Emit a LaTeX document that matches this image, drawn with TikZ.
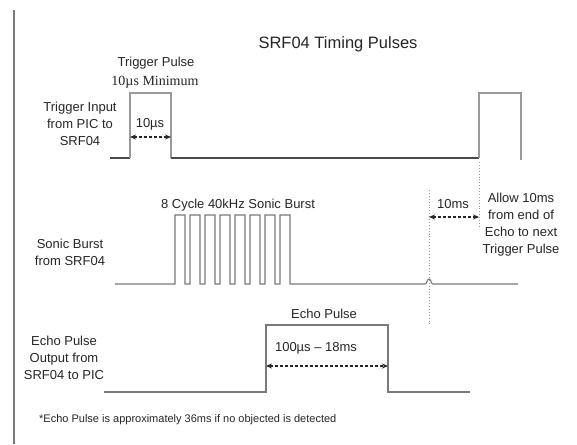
\documentclass[tikz,border=0pt]{standalone}
\usepackage{fontspec}
\setmainfont{Liberation Sans}
\newfontfamily\serifface{Liberation Serif}
\usetikzlibrary{arrows.meta}
\definecolor{sigdark}{HTML}{4A4A4A}
\definecolor{siglight}{HTML}{9A9A9A}
\definecolor{sigmid}{HTML}{7A7A7A}
\tikzset{
  lbl/.style={inner sep=0pt, align=center, font=\fontsize{13}{17}\selectfont, text=black!85},
  title/.style={inner sep=0pt, font=\fontsize{16.5}{20}\selectfont, text=black!85},
  small/.style={inner sep=0pt, font=\fontsize{11}{13}\selectfont, text=black!85},
  sigbase/.style={draw=sigdark, line width=1.4pt},
  siglt/.style={draw=siglight, line width=1.2pt},
  sigmd/.style={draw=sigmid, line width=1.1pt},
  dim/.style={draw=black!85, dashed, dash pattern=on 3pt off 2pt, line width=1.1pt, {Stealth[length=6pt,width=5pt]}-{Stealth[length=6pt,width=5pt]}},
  guide/.style={draw=siglight, dotted, line width=0.9pt},
}
\begin{document}
\begin{tikzpicture}[x=1pt,y=-1pt]
\useasboundingbox (0,0) rectangle (577,444);
\fill[white] (0,0) rectangle (577,444);
% left border
\draw[draw=sigmid, line width=2pt] (14,10) -- (14,444);

% title
\node[title] (title) at (338,44) {SRF04 Timing Pulses};

% trigger signal
\draw[sigbase] (110,158) -- (130,158);
\draw[siglt] (130,158) -- (130,93) -- (171,93) -- (171,158);
\draw[sigbase] (171,158) -- (479,158);
\draw[siglt] (479,158) -- (479,93) -- (521,93) -- (521,160);
\coordinate (t1a) at (130,137);
\coordinate (t1b) at (171,137);
\draw[dim] (t1a) -- (t1b);
\node[lbl] (tp) at (156,63) {Trigger Pulse};
\node[lbl, font=\serifface\fontsize{14}{17}\selectfont] (tpmin) at (155,82) {10µs Minimum};
\node[lbl] (tus) at (150,124) {10µs};
\node[lbl] (tin) at (80,124) {Trigger Input\\from PIC to\\SRF04};

% sonic burst
\draw[sigmd] (115,284)
  foreach \i in {0,...,7} { -- ({175+15*\i},284) -- ({175+15*\i},215) -- ({185+15*\i},215) -- ({185+15*\i},284) }
  -- (425,284) .. controls (427,284) and (427,279) .. (429,279) .. controls (431,279) and (431,284) .. (433,284) -- (518,284);
\node[lbl] (burst) at (238,205) {8 Cycle 40kHz Sonic Burst};
\node[lbl] (sb) at (70,252) {Sonic Burst\\from SRF04};

% guides
\coordinate (g1top) at (429,190);
\coordinate (g1bot) at (429,325);
\coordinate (g2top) at (479,162);
\coordinate (g2bot) at (479,228);
\draw[guide] (g1top) -- (g1bot);
\draw[guide] (g2top) -- (g2bot);
\coordinate (m1a) at (429,217);
\coordinate (m1b) at (479,217);
\draw[dim] (m1a) -- (m1b);
\node[lbl] (tenms) at (453,204) {10ms};
\node[lbl] (allow) at (521,225) {Allow 10ms\\from end of\\Echo to next\\Trigger Pulse};

% echo
\draw[sigmd] (104,392) -- (266,392) -- (266,325) -- (388,325) -- (388,392) -- (470,392);
\coordinate (e1a) at (266,366);
\coordinate (e1b) at (388,366);
\draw[dim] (e1a) -- (e1b);
\node[lbl] (ep) at (324,314) {Echo Pulse};
\node[lbl] (erange) at (316,348) {100µs – 18ms};
\node[lbl] (eout) at (64,358) {Echo Pulse\\Output from\\SRF04 to PIC};

% footnote
\node[small, anchor=west] (note) at (39,420) {*Echo Pulse is approximately 36ms if no objected is detected};
\end{tikzpicture}
\end{document}
